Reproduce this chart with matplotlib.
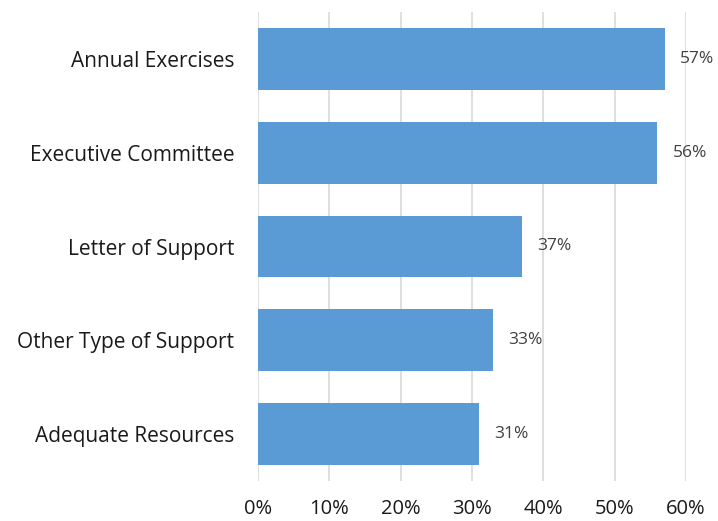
import numpy as np
import matplotlib.pyplot as plt

plt.rcParams['font.family'] = ['Open Sans', 'DejaVu Sans']

categories = ['Annual Exercises', 'Executive Committee', 'Letter of Support',
              'Other Type of Support', 'Adequate Resources']
values = [57, 56, 37, 33, 31]
xticks = [0, 10, 20, 30, 40, 50, 60]

fig = plt.figure(figsize=(7.18, 5.21), dpi=100)
ax = fig.add_axes([258 / 718, 1 - 481 / 521, 428 / 718, 469 / 521])

y = np.arange(len(categories))
ax.barh(y, values, height=0.66, color='#5B9BD5', zorder=3)
for yi, v in zip(y, values):
    ax.text(v + 2.1, yi, f'{v}%', va='center', ha='left', fontsize=12.5, color='#404040')

ax.set_xlim(0, 60)
ax.set_ylim(len(categories) - 0.5, -0.5)
ax.set_yticks(y)
ax.set_yticklabels(categories, fontsize=15, color='#1a1a1a')
ax.set_xticks(xticks)
ax.set_xticklabels([f'{t}%' for t in xticks], fontsize=14.5, color='#1a1a1a')
ax.tick_params(axis='y', length=0, pad=17)
ax.tick_params(axis='x', length=0, pad=13)
ax.grid(axis='x', color='#d9d9d9', linewidth=1.2, zorder=0)
for s in ax.spines.values():
    s.set_visible(False)

fig.savefig('out.png', dpi=100)
